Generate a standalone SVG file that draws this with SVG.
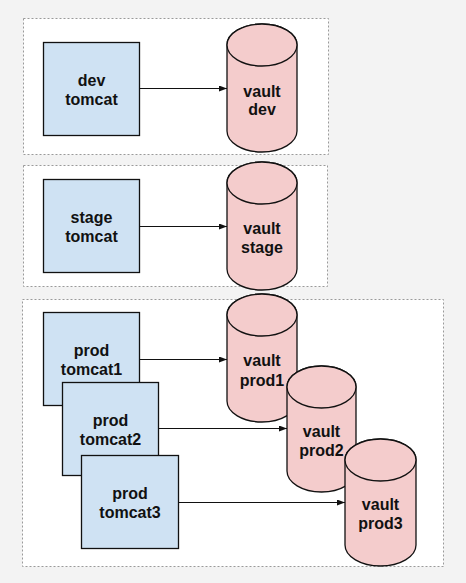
<svg xmlns="http://www.w3.org/2000/svg" width="466" height="583" viewBox="0 0 466 583">
<defs>
<style>
.bg{fill:#f3f3f3}
.grp{fill:#ffffff;stroke:#9a9a9a;stroke-width:1;stroke-dasharray:2 2}
.box{fill:#cfe2f3;stroke:#111;stroke-width:1.3}
.cyl{fill:#f4cccc;stroke:#111;stroke-width:1.3}
.lbl{font-family:"Liberation Sans",Arial,sans-serif;font-size:16px;font-weight:bold;fill:#111;text-anchor:middle}
.conn{stroke:#111;stroke-width:1.2;fill:none;marker-end:url(#ah)}
</style>
<marker id="ah" viewBox="0 0 8 6" refX="8" refY="3" markerWidth="8" markerHeight="6" markerUnits="userSpaceOnUse" orient="auto">
<path d="M0,0 L8,3 L0,6 Z" fill="#111"/>
</marker>
</defs>
<rect class="bg" x="0" y="0" width="466" height="583"/>
<g id="group-dev"><rect class="grp" x="23.5" y="18.5" width="305" height="136"/></g>
<g id="group-stage"><rect class="grp" x="23.5" y="165.5" width="304" height="121"/></g>
<g id="group-prod"><rect class="grp" x="22.5" y="299.5" width="421" height="267"/></g>

<g id="dev-tomcat"><rect class="box" x="43.5" y="42.5" width="96" height="93"/>
<text class="lbl" x="91.5" y="86">dev</text><text class="lbl" x="91.5" y="105">tomcat</text></g>
<g id="vault-dev"><path class="cyl" d="M227,45 L227,131 A35,21 0 0 0 297,131 L297,45 A35,21 0 0 0 227,45 Z"/><ellipse class="cyl" cx="262" cy="45" rx="35" ry="21"/>
<text class="lbl" x="262" y="97">vault</text><text class="lbl" x="262" y="115">dev</text></g>

<g id="stage-tomcat"><rect class="box" x="43.5" y="179.5" width="96" height="93"/>
<text class="lbl" x="91.5" y="223">stage</text><text class="lbl" x="91.5" y="242">tomcat</text></g>
<g id="vault-stage"><path class="cyl" d="M227,183 L227,269 A35,21 0 0 0 297,269 L297,183 A35,21 0 0 0 227,183 Z"/><ellipse class="cyl" cx="262" cy="183" rx="35" ry="21"/>
<text class="lbl" x="262" y="234">vault</text><text class="lbl" x="262" y="253">stage</text></g>

<g id="prod-tomcat1"><rect class="box" x="43.5" y="312.5" width="96" height="93"/>
<text class="lbl" x="91.5" y="356">prod</text><text class="lbl" x="91.5" y="375">tomcat1</text></g>
<g id="prod-tomcat2"><rect class="box" x="62.5" y="382.5" width="96" height="93"/>
<text class="lbl" x="110.5" y="426">prod</text><text class="lbl" x="110.5" y="445">tomcat2</text></g>
<g id="prod-tomcat3"><rect class="box" x="81.5" y="455.5" width="97" height="93"/>
<text class="lbl" x="130" y="499">prod</text><text class="lbl" x="130" y="518">tomcat3</text></g>

<g id="vault-prod1"><path class="cyl" d="M227,315 L227,401 A35,21 0 0 0 297,401 L297,315 A35,21 0 0 0 227,315 Z"/><ellipse class="cyl" cx="262" cy="315" rx="35" ry="21"/>
<text class="lbl" x="262" y="366">vault</text><text class="lbl" x="262" y="386">prod1</text></g>
<g id="vault-prod2"><path class="cyl" d="M287,387 L287,471 A34.5,21 0 0 0 356,471 L356,387 A34.5,21 0 0 0 287,387 Z"/><ellipse class="cyl" cx="321.5" cy="387" rx="34.5" ry="21"/>
<text class="lbl" x="321.5" y="437">vault</text><text class="lbl" x="321.5" y="456">prod2</text></g>
<g id="vault-prod3"><path class="cyl" d="M345,460 L345,545 A35.5,21 0 0 0 416,545 L416,460 A35.5,21 0 0 0 345,460 Z"/><ellipse class="cyl" cx="380.5" cy="460" rx="35.5" ry="21"/>
<text class="lbl" x="380.5" y="510">vault</text><text class="lbl" x="380.5" y="529">prod3</text></g>

<g id="connectors">
<line class="conn" x1="139.5" y1="88.5" x2="227" y2="88.5"/>
<line class="conn" x1="139.5" y1="226.5" x2="227" y2="226.5"/>
<line class="conn" x1="139.5" y1="359.5" x2="227" y2="359.5"/>
<line class="conn" x1="158.5" y1="428.5" x2="287" y2="428.5"/>
<line class="conn" x1="178.5" y1="502.5" x2="345" y2="502.5"/>
</g>
</svg>
